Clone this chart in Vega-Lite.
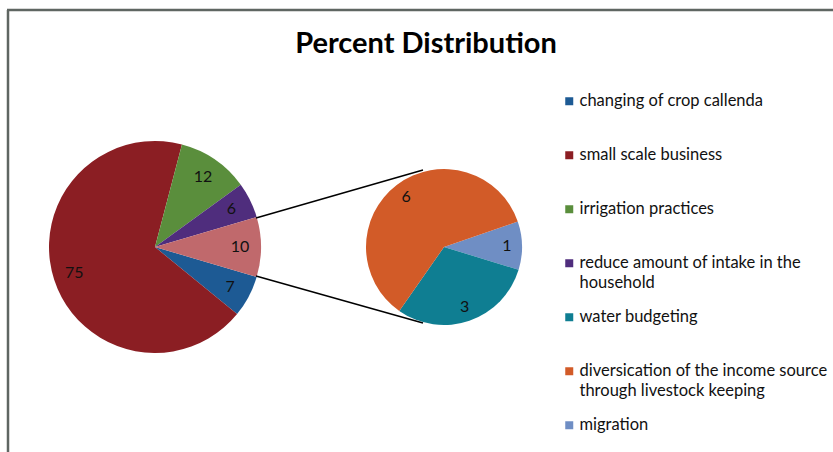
{
  "$schema": "https://vega.github.io/schema/vega-lite/v6.json",
  "width": 833,
  "height": 452,
  "padding": 0,
  "autosize": {"type": "none"},
  "background": "white",
  "config": {"view": {"stroke": null}, "font": "Lato"},
  "datasets": {
    "main": [
      {"cat": "changing of crop callenda", "v": 7, "o": 1},
      {"cat": "small scale business", "v": 75, "o": 2},
      {"cat": "irrigation practices", "v": 12, "o": 3},
      {"cat": "reduce amount of intake in the household", "v": 6, "o": 4},
      {"cat": "other", "v": 10, "o": 5}
    ],
    "sec": [
      {"cat": "migration", "v": 1, "o": 1},
      {"cat": "water budgeting", "v": 3, "o": 2},
      {"cat": "diversication of the income source through livestock keeping", "v": 6, "o": 3}
    ],
    "title": [{"t": "Percent Distribution"}],
    "one": [{}]
  },
  "layer": [
    {
      "data": {"name": "main"},
      "encoding": {
        "x": {"datum": 155, "type": "quantitative", "scale": {"domain": [0, 833], "range": [0, 833], "nice": false, "zero": false}, "axis": null},
        "y": {"datum": 247, "type": "quantitative", "scale": {"domain": [0, 452], "range": [0, 452], "nice": false, "zero": false}, "axis": null},
        "theta": {"field": "v", "type": "quantitative", "stack": true, "scale": {"domain": [0, 110], "range": [1.8564, 8.1396]}},
        "order": {"field": "o", "type": "quantitative"}
      },
      "layer": [
        {
          "mark": {"type": "arc", "radius": 106},
          "encoding": {
            "color": {
              "field": "cat",
              "type": "nominal",
              "scale": {
                "domain": ["changing of crop callenda", "small scale business", "irrigation practices", "reduce amount of intake in the household", "water budgeting", "diversication of the income source through livestock keeping", "migration", "other"],
                "range": ["#1d5a94", "#8b1e23", "#5a8e3c", "#4f2d7d", "#0f7e92", "#d25b28", "#6f8ec4", "#c0696c"]
              },
              "legend": {
                "orient": "none",
                "legendX": 561,
                "legendY": 93,
                "title": null,
                "padding": 0,
                "values": ["changing of crop callenda", "small scale business", "irrigation practices", "reduce amount of intake in the household", "water budgeting", "diversication of the income source through livestock keeping", "migration"],
                "symbolType": "square",
                "symbolSize": 64,
                "symbolStrokeWidth": 0,
                "labelFont": "Lato",
                "labelFontSize": 16.5,
                "labelColor": "#111111",
                "labelOffset": 2,
                "labelLimit": 400,
                "gridAlign": "all",
                "rowPadding": 17,
                "labelExpr": "datum.label == 'reduce amount of intake in the household' ? ['reduce amount of intake in the', 'household'] : datum.label == 'diversication of the income source through livestock keeping' ? ['diversication of the income source', 'through livestock keeping'] : datum.label",
                "encode": {"labels": {"update": {"lineHeight": {"value": 20}}}}
              }
            }
          }
        },
        {
          "mark": {"type": "text", "radius": 85, "fontSize": 16, "font": "Lato", "color": "#111111"},
          "encoding": {"text": {"field": "v", "type": "quantitative"}}
        }
      ]
    },
    {
      "data": {"name": "sec"},
      "encoding": {
        "x": {"datum": 444, "type": "quantitative", "scale": {"domain": [0, 833], "range": [0, 833], "nice": false, "zero": false}, "axis": null},
        "y": {"datum": 247, "type": "quantitative", "scale": {"domain": [0, 452], "range": [0, 452], "nice": false, "zero": false}, "axis": null},
        "theta": {"field": "v", "type": "quantitative", "stack": true, "scale": {"domain": [0, 10], "range": [1.239, 7.522]}},
        "order": {"field": "o", "type": "quantitative"}
      },
      "layer": [
        {
          "mark": {"type": "arc", "radius": 78},
          "encoding": {"color": {"field": "cat", "type": "nominal"}}
        },
        {
          "mark": {"type": "text", "radius": 63, "fontSize": 16, "font": "Lato", "color": "#111111"},
          "encoding": {"text": {"field": "v", "type": "quantitative"}}
        }
      ]
    },
    {
      "data": {"name": "one"},
      "mark": {"type": "rule", "color": "#000000", "strokeWidth": 1.5},
      "encoding": {"x": {"datum": 256}, "y": {"datum": 218}, "x2": {"datum": 423}, "y2": {"datum": 170}}
    },
    {
      "data": {"name": "one"},
      "mark": {"type": "rule", "color": "#000000", "strokeWidth": 1.5},
      "encoding": {"x": {"datum": 256}, "y": {"datum": 276}, "x2": {"datum": 423}, "y2": {"datum": 323}}
    },
    {
      "data": {"name": "one"},
      "mark": {"type": "rule", "color": "#5f6662", "strokeWidth": 2.5},
      "encoding": {"x": {"datum": 7}, "y": {"datum": 10}, "x2": {"datum": 833}, "y2": {"datum": 10}}
    },
    {
      "data": {"name": "one"},
      "mark": {"type": "rule", "color": "#5f6662", "strokeWidth": 2.5},
      "encoding": {"x": {"datum": 8}, "y": {"datum": 10}, "x2": {"datum": 8}, "y2": {"datum": 452}}
    },
    {
      "data": {"name": "title"},
      "mark": {"type": "text", "fontSize": 29, "fontWeight": "bold", "font": "Lato", "color": "#000000"},
      "encoding": {"x": {"datum": 426}, "y": {"datum": 44}, "text": {"field": "t", "type": "nominal"}}
    }
  ],
  "resolve": {"scale": {"theta": "independent"}}
}
